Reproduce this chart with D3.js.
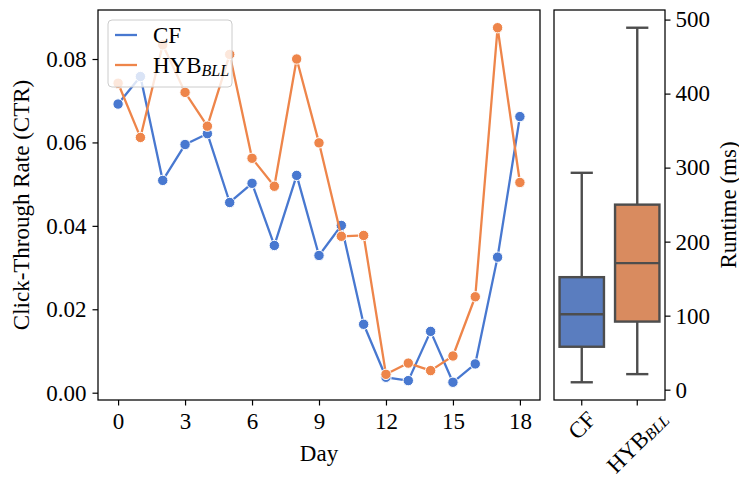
<!DOCTYPE html>
<html><head><meta charset="utf-8">
<script src="https://cdn.jsdelivr.net/npm/d3@7"></script>
<style>
body{margin:0;background:#fff;}
svg{display:block;font-family:"Liberation Serif","Times New Roman",serif;}
</style></head>
<body><svg id="c" width="739" height="479"></svg>
<script>
// ---- data ----
const days = [0,1,2,3,4,5,6,7,8,9,10,11,12,13,14,15,16,17,18];
const cfCTR  = [0.0692,0.0758,0.0509,0.0595,0.0621,0.0456,0.0502,0.0353,0.0521,0.0329,0.0401,0.0164,0.0037,0.0029,0.0147,0.0025,0.0069,0.0325,0.0662];
const hybCTR = [0.0742,0.0612,0.0834,0.0720,0.0639,0.0811,0.0562,0.0495,0.0800,0.0599,0.0375,0.0377,0.0044,0.0071,0.0053,0.0088,0.0230,0.0875,0.0504];
const xTicks = [0,3,6,9,12,15,18];
const yTicks = [0.00,0.02,0.04,0.06,0.08];
const boxGroups = ["CF","HYB"];
const boxWhiskerLow  = [10, 21];
const boxQ1          = [58, 92];
const boxMedian      = [102, 171];
const boxQ3          = [152, 250];
const boxWhiskerHigh = [293, 489];
const runtimeTicks = [0,100,200,300,400,500];

// ---- styles ----
const blue = "#4878d0", orange = "#ee854a";
const boxFill = ["#5a7dbf", "#d98b5f"];
const boxLine = "#4d4d4d";
const FS = 23;

const svg = d3.select("#c");

// ---- left panel ----
const L = {x0:98, x1:540, y0:10, y1:400};
const x = d3.scaleLinear().domain([-0.9, 18.9]).range([L.x0, L.x1]);
const all = cfCTR.concat(hybCTR);
const ext = d3.extent(all), pad = (ext[1]-ext[0])*0.05;
const y = d3.scaleLinear().domain([ext[0]-pad, ext[1]+pad]).range([L.y1, L.y0]);

const gL = svg.append("g");
// axes
const xAx = gL.append("g").attr("transform",`translate(0,${L.y1})`)
  .call(d3.axisBottom(x).tickValues(xTicks).tickSize(5.5).tickPadding(7).tickFormat(d3.format("d")));
const yAx = gL.append("g").attr("transform",`translate(${L.x0},0)`)
  .call(d3.axisLeft(y).tickValues(yTicks).tickSize(5.5).tickPadding(6).tickFormat(d3.format(".2f")));
[xAx,yAx].forEach(a=>{
  a.select(".domain").remove();
  a.selectAll(".tick line").attr("stroke","#000").attr("stroke-width",1.2);
  a.selectAll(".tick text").attr("font-size",FS).attr("fill","#000").attr("font-family","Liberation Serif");
});

const line = d3.line().x((d,i)=>x(days[i])).y(d=>y(d));
function series(vals,color){
  const g = gL.append("g");
  g.append("path").datum(vals).attr("d",line).attr("fill","none")
    .attr("stroke",color).attr("stroke-width",2.3).attr("stroke-linejoin","round");
  g.selectAll("circle").data(vals).join("circle")
    .attr("cx",(d,i)=>x(days[i])).attr("cy",d=>y(d)).attr("r",5.2)
    .attr("fill",color).attr("stroke","#fff").attr("stroke-width",1);
}
series(cfCTR, blue);
series(hybCTR, orange);

// frame
gL.append("rect").attr("x",L.x0).attr("y",L.y0).attr("width",L.x1-L.x0).attr("height",L.y1-L.y0)
  .attr("fill","none").attr("stroke","#000").attr("stroke-width",1.25);

// legend
const lg = gL.append("g");
lg.append("rect").attr("x",108).attr("y",20).attr("width",124).attr("height",67).attr("rx",4)
  .attr("fill","#fff").attr("fill-opacity",0.8).attr("stroke","#cccccc").attr("stroke-width",1);
const legItems = [{c:blue, y:35}, {c:orange, y:65}];
legItems.forEach(it=>{
  lg.append("line").attr("x1",115).attr("x2",137).attr("y1",it.y).attr("y2",it.y)
    .attr("stroke",it.c).attr("stroke-width",2.3);
});
lg.append("text").attr("x",153).attr("y",43).attr("font-size",FS).text(boxGroups[0]);
const ht = lg.append("text").attr("x",153).attr("y",73).attr("font-size",FS);
ht.append("tspan").text(boxGroups[1]);
ht.append("tspan").attr("font-style","italic").attr("font-size",16).attr("dy",3).text("BLL");

// axis labels
svg.append("text").attr("x",(L.x0+L.x1)/2).attr("y",461).attr("text-anchor","middle")
  .attr("font-size",FS).text("Day");
svg.append("text").attr("transform",`translate(29,${(L.y0+L.y1)/2}) rotate(-90)`)
  .attr("text-anchor","middle").attr("font-size",FS).text("Click-Through Rate (CTR)");

// ---- right panel (boxplot) ----
const R = {x0:554, x1:665, y0:10, y1:400};
const bx = d3.scaleBand().domain(boxGroups).range([R.x0,R.x1]).paddingInner(0).paddingOuter(0);
const bw = bx.bandwidth()*0.8;
const rext = [d3.min(boxWhiskerLow), d3.max(boxWhiskerHigh)], rpad=(rext[1]-rext[0])*0.05;
const ry = d3.scaleLinear().domain([rext[0]-rpad, rext[1]+rpad]).range([R.y1,R.y0]);
const gR = svg.append("g");
const ryAx = gR.append("g").attr("transform",`translate(${R.x1},0)`)
  .call(d3.axisRight(ry).tickValues(runtimeTicks).tickSize(5.5).tickPadding(5).tickFormat(d3.format("d")));
const rxAx = gR.append("g").attr("transform",`translate(0,${R.y1})`)
  .call(d3.axisBottom(bx).tickSize(5.5).tickFormat(""));
[ryAx,rxAx].forEach(a=>{
  a.select(".domain").remove();
  a.selectAll(".tick line").attr("stroke","#000").attr("stroke-width",1.2);
  a.selectAll(".tick text").attr("font-size",FS).attr("fill","#000").attr("font-family","Liberation Serif");
});

boxGroups.forEach((g,i)=>{
  const cx = bx(g)+bx.bandwidth()/2;
  const gg = gR.append("g");
  const cap = bw*0.5;
  gg.append("line").attr("x1",cx).attr("x2",cx).attr("y1",ry(boxWhiskerLow[i])).attr("y2",ry(boxQ1[i]))
    .attr("stroke",boxLine).attr("stroke-width",2.4);
  gg.append("line").attr("x1",cx).attr("x2",cx).attr("y1",ry(boxQ3[i])).attr("y2",ry(boxWhiskerHigh[i]))
    .attr("stroke",boxLine).attr("stroke-width",2.4);
  [boxWhiskerLow[i], boxWhiskerHigh[i]].forEach(v=>{
    gg.append("line").attr("x1",cx-cap/2).attr("x2",cx+cap/2).attr("y1",ry(v)).attr("y2",ry(v))
      .attr("stroke",boxLine).attr("stroke-width",2.4);
  });
  gg.append("rect").attr("x",cx-bw/2).attr("width",bw).attr("y",ry(boxQ3[i]))
    .attr("height",ry(boxQ1[i])-ry(boxQ3[i])).attr("fill",boxFill[i])
    .attr("stroke",boxLine).attr("stroke-width",2.4);
  gg.append("line").attr("x1",cx-bw/2).attr("x2",cx+bw/2).attr("y1",ry(boxMedian[i])).attr("y2",ry(boxMedian[i]))
    .attr("stroke",boxLine).attr("stroke-width",2.4);

  // rotated tick label, centered on tick, top of rotated box at ~410
  const t = gR.append("text").attr("font-size",FS).attr("text-anchor","middle");
  t.append("tspan").text(g);
  if(i===1) t.append("tspan").attr("font-style","italic").attr("font-size",16).attr("dy",3).text("BLL");
  const len = t.node().getComputedTextLength();
  const h = FS*0.75;
  const half = (len+h)*Math.SQRT1_2/2;
  t.attr("dominant-baseline","central")
   .attr("transform",`translate(${cx},${409+half}) rotate(-45)`);
});
gR.append("rect").attr("x",R.x0).attr("y",R.y0).attr("width",R.x1-R.x0).attr("height",R.y1-R.y0)
  .attr("fill","none").attr("stroke","#000").attr("stroke-width",1.25);
svg.append("text").attr("transform",`translate(728,${(R.y0+R.y1)/2}) rotate(-90)`)
  .attr("text-anchor","middle").attr("dominant-baseline","central").attr("font-size",FS).text("Runtime (ms)");
</script></body></html>
